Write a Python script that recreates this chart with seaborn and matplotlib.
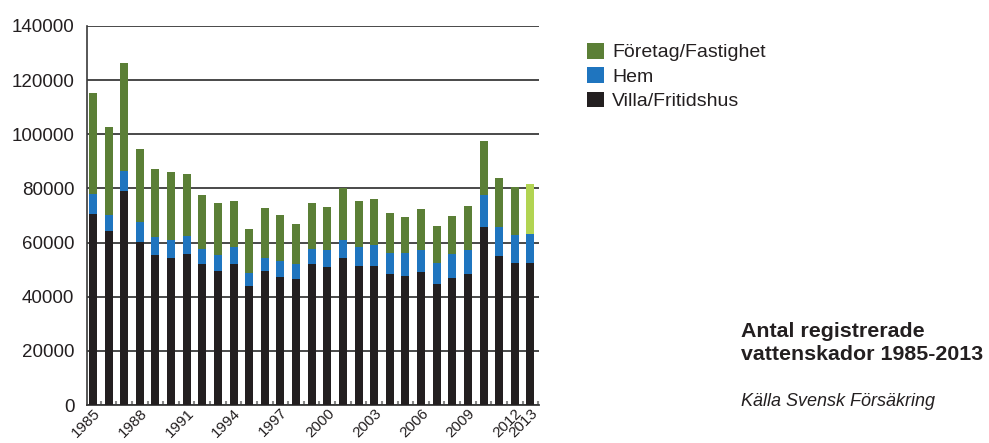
import matplotlib
matplotlib.use("Agg")
import matplotlib.pyplot as plt
from matplotlib.patches import Patch
import matplotlib.transforms as mtransforms
import seaborn as sns
import pandas as pd
import numpy as np

years = list(range(1985, 2014))
villa = [70.6, 64.3, 79.1, 60.2, 55.4, 54.3, 55.8, 52.1, 49.5, 52.1,
         44.0, 49.5, 47.3, 46.5, 52.1, 51.0, 54.3, 51.4, 51.4, 48.4,
         47.7, 49.1, 44.7, 46.9, 48.4, 65.8, 55.1, 52.5, 52.5]
hem = [7.4, 5.9, 7.4, 7.5, 6.7, 6.7, 6.7, 5.6, 5.9, 6.3,
       4.8, 4.9, 5.9, 5.7, 5.6, 6.4, 6.8, 7.0, 7.7, 7.8,
       8.5, 8.3, 7.8, 9.0, 9.0, 11.7, 10.5, 10.3, 10.7]
foretag = [37.1, 32.6, 39.7, 27.0, 25.2, 25.2, 22.9, 20.0, 19.3, 17.0,
           16.3, 18.4, 17.0, 14.7, 17.0, 15.8, 19.1, 17.0, 17.1, 14.8,
           13.3, 15.1, 13.7, 14.0, 16.2, 20.2, 18.4, 17.8, 18.5]
labeled_years = [1985, 1988, 1991, 1994, 1997, 2000, 2003, 2006, 2009, 2012, 2013]
series_names = ["Företag/Fastighet", "Hem", "Villa/Fritidshus"]

c_green = "#5b7f36"
c_green_light = "#b2d452"
c_blue = "#1f75bf"
c_black = "#231f20"
c_text = "#231f20"

df = pd.DataFrame({
    "year": [str(y) for y in years],
    "villa": np.array(villa) * 1000,
    "hem": np.array(hem) * 1000,
    "foretag": np.array(foretag) * 1000,
})
df["level2"] = df["villa"] + df["hem"]
df["total"] = df["level2"] + df["foretag"]

sns.set_theme(style="white")
plt.rcParams["font.family"] = ["Liberation Sans", "DejaVu Sans"]

fig = plt.figure(figsize=(9.89, 4.43), dpi=100)
ax = fig.add_axes([87 / 989, 1 - 405 / 443, (539 - 87) / 989, (405 - 26) / 443])

top_palette = [c_green] * (len(years) - 1) + [c_green_light]
w = 0.51
sns.barplot(data=df, x="year", y="total", hue="year", palette=top_palette,
            legend=False, width=w, ax=ax, saturation=1, linewidth=0, zorder=3)
sns.barplot(data=df, x="year", y="level2", color=c_blue, width=w, ax=ax,
            saturation=1, linewidth=0, zorder=3)
sns.barplot(data=df, x="year", y="villa", color=c_black, width=w, ax=ax,
            saturation=1, linewidth=0, zorder=3)

ax.set_xlim(-0.38, len(years) - 1 + 0.55)
ax.set_ylim(0, 140000)
ax.set_yticks(np.arange(0, 140001, 20000))
ax.set_yticklabels([str(v) for v in range(0, 140001, 20000)], fontsize=13.5, color=c_text)
ax.yaxis.grid(True, color="#3a3a3a", linewidth=1.3, zorder=1)
ax.xaxis.grid(False)
ax.set_axisbelow(True)

ticks = [years.index(y) for y in labeled_years]
ax.set_xticks(ticks)
ax.set_xticklabels([str(y) for y in labeled_years], rotation=45, ha="right",
                   va="top", rotation_mode="anchor", fontsize=11, color=c_text)
offset = mtransforms.ScaledTranslation(5 / 100, 0, fig.dpi_scale_trans)
for lab in ax.get_xticklabels():
    lab.set_transform(lab.get_transform() + offset)
ax.set_xticks(np.arange(len(years)) + 0.5, minor=True)
ax.tick_params(axis="x", which="major", length=0, pad=0.5)
ax.tick_params(axis="x", which="minor", direction="in", length=3, width=1.5,
               color="#888888", bottom=True)
ax.tick_params(axis="y", length=0, pad=9)
ax.set_xlabel("")
ax.set_ylabel("")

for s in ["top", "right"]:
    ax.spines[s].set_visible(False)
ax.spines["left"].set_color("#3a3a3a")
ax.spines["left"].set_linewidth(1.2)
ax.spines["bottom"].set_color("#3a3a3a")
ax.spines["bottom"].set_linewidth(1.3)

handles = [Patch(facecolor=c_green, edgecolor="none"),
           Patch(facecolor=c_blue, edgecolor="none"),
           Patch(facecolor=c_black, edgecolor="none")]
fig.legend(handles, series_names, loc="upper left",
           bbox_to_anchor=(587 / 989, 1 - 43 / 443), frameon=False,
           fontsize=14, handlelength=0.85, handleheight=0.85,
           handletextpad=0.45, labelspacing=0.3, labelcolor=c_text,
           borderaxespad=0, borderpad=0)

fig.text(741 / 989, 1 - 343 / 443, "Antal registrerade\nvattenskador 1985-2013",
         fontsize=15.4, fontweight="bold", color=c_text, va="center",
         ha="left", linespacing=1.25)
fig.text(741 / 989, 1 - 401 / 443, "Källa Svensk Försäkring", fontsize=13,
         style="italic", color=c_text, va="center", ha="left")

fig.savefig("out.png", dpi=100)
